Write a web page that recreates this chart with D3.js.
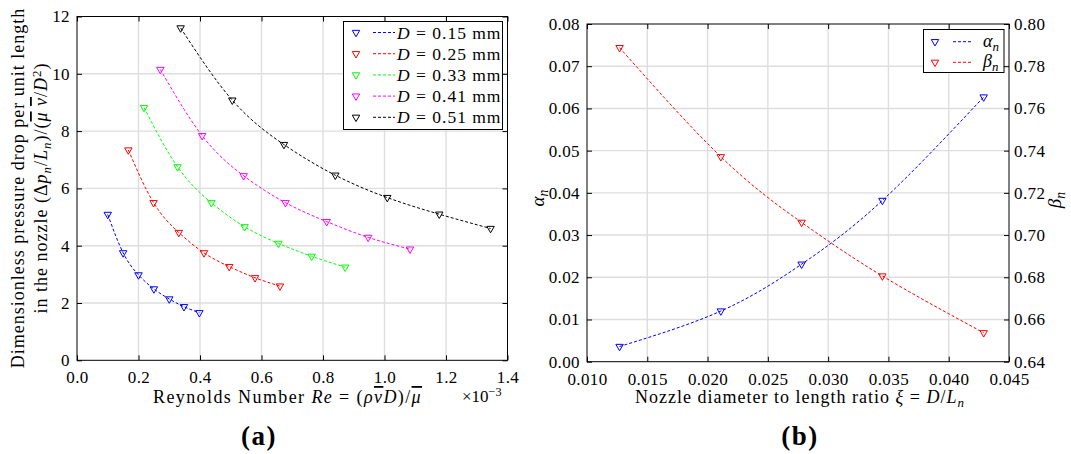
<!DOCTYPE html>
<html>
<head>
<meta charset="utf-8">
<script src="https://cdn.jsdelivr.net/npm/d3@7"></script>
<style>
  body { margin: 0; background: #fff; }
</style>
</head>
<body>
<svg id="chart" width="1071" height="454"></svg>
<script>
// ---- data ----
var diameters = ["0.15", "0.25", "0.33", "0.41", "0.51"];
var seriesColors = ["#0000ff", "#ff0000", "#00ff00", "#ff00ff", "#000000"];
var reX = [
  [0.100, 0.150, 0.200, 0.250, 0.300, 0.348, 0.398],
  [0.167, 0.249, 0.331, 0.413, 0.495, 0.579, 0.660],
  [0.218, 0.327, 0.437, 0.545, 0.655, 0.763, 0.872],
  [0.271, 0.407, 0.542, 0.678, 0.812, 0.947, 1.083],
  [0.337, 0.505, 0.673, 0.840, 1.009, 1.178, 1.345]
];
var dpY = [
  [5.09, 3.75, 2.98, 2.49, 2.14, 1.87, 1.66],
  [7.34, 5.50, 4.46, 3.75, 3.27, 2.88, 2.59],
  [8.82, 6.75, 5.50, 4.66, 4.08, 3.63, 3.25],
  [10.15, 7.84, 6.44, 5.50, 4.84, 4.29, 3.88],
  [11.60, 9.08, 7.53, 6.46, 5.68, 5.10, 4.60]
];
var xiValues = [0.0127, 0.0211, 0.0278, 0.0345, 0.0429];
var alphaValues = [0.0036, 0.0120, 0.0231, 0.0382, 0.0627];
var betaValues = [0.7888, 0.7371, 0.7060, 0.6806, 0.6537];

var xTicksA = [0, 0.2, 0.4, 0.6, 0.8, 1.0, 1.2, 1.4];
var yTicksA = [0, 2, 4, 6, 8, 10, 12];
var xTicksB = [0.010, 0.015, 0.020, 0.025, 0.030, 0.035, 0.040, 0.045];
var yTicksB = [0, 0.01, 0.02, 0.03, 0.04, 0.05, 0.06, 0.07, 0.08];
var yTicksB2 = [0.64, 0.66, 0.68, 0.70, 0.72, 0.74, 0.76, 0.78, 0.80];

var svg = d3.select("#chart");
var fs = 17;

// rich text helper: segs = [[text, opts]] opts: i italic, sub, sup, over, b bold
function rich(sel, segs) {
  var shift = 0;
  segs.forEach(function(s){
    var o = s[1] || {};
    var target = o.sub ? 4 : (o.sup ? -6 : 0);
    var t = sel.append("tspan").text(s[0]).attr("dy", target - shift);
    shift = target;
    if (o.i) t.style("font-style", "italic");
    if (o.sub || o.sup) t.style("font-size", "0.72em");
    if (o.over) t.style("text-decoration", "overline");
    if (o.b) t.style("font-weight", "bold");
  });
  return sel;
}

function frame(g, x, y, xt, yt, right, fmtX, fmtY) {
  var x0 = x.range()[0], x1 = x.range()[1], y0 = y.range()[0], y1 = y.range()[1];
  // grid
  g.selectAll(".gx").data(xt.slice(1, -1)).enter().append("line")
    .attr("x1", x).attr("x2", x).attr("y1", y0).attr("y2", y1)
    .attr("stroke", "#dedede").attr("stroke-width", 1.4);
  g.selectAll(".gy").data(yt.slice(1, -1)).enter().append("line")
    .attr("y1", y).attr("y2", y).attr("x1", x0).attr("x2", x1)
    .attr("stroke", "#dedede").attr("stroke-width", 1.4);
  // inner ticks on all sides
  g.append("g").attr("transform", "translate(0," + y0 + ")")
    .call(d3.axisBottom(x).tickValues(xt).tickSize(-5).tickFormat(fmtX).tickPadding(11));
  g.append("g").attr("transform", "translate(0," + y1 + ")")
    .call(d3.axisTop(x).tickValues(xt).tickSize(-5).tickFormat(""));
  g.append("g").attr("transform", "translate(" + x0 + ",0)")
    .call(d3.axisLeft(y).tickValues(yt).tickSize(-5).tickFormat(fmtY).tickPadding(7));
  if (right) {
    g.append("g").attr("transform", "translate(" + x1 + ",0)")
      .call(d3.axisRight(y).tickValues(yt).tickSize(-5).tickFormat(""));
  }
  g.selectAll(".domain").remove();
  g.selectAll(".tick line").attr("stroke", "#000");
  g.append("rect").attr("x", x0).attr("y", y1).attr("width", x1 - x0).attr("height", y0 - y1)
    .attr("fill", "none").attr("stroke", "#000").attr("stroke-width", 1);
}

var tri = d3.symbol().type(d3.symbolTriangle).size(24);
function markers(g, xs, ys, x, y, color) {
  g.selectAll(null).data(xs).enter().append("path")
    .attr("d", tri)
    .attr("transform", function(d, i){ return "translate(" + x(d) + "," + y(ys[i]) + ") rotate(180)"; })
    .attr("fill", "none").attr("stroke", color).attr("stroke-width", 1);
}
function curve(g, xs, ys, x, y, color) {
  var line = d3.line().x(function(d){ return x(d[0]); }).y(function(d){ return y(d[1]); })
    .curve(d3.curveNatural);
  g.append("path").datum(d3.zip(xs, ys)).attr("d", line)
    .attr("fill", "none").attr("stroke", color).attr("stroke-width", 1).attr("stroke-dasharray", "3,2");
}

// ---- panel (a) ----
var xa = d3.scaleLinear().domain([0, 1.4]).range([77, 507.5]);
var ya = d3.scaleLinear().domain([0, 12]).range([360.3, 16.5]);
var ga = svg.append("g");
frame(ga, xa, ya, xTicksA, yTicksA, true, d3.format(".1f"), d3.format("d"));
diameters.forEach(function(dm, k){
  curve(ga, reX[k], dpY[k], xa, ya, seriesColors[k]);
  markers(ga, reX[k], dpY[k], xa, ya, seriesColors[k]);
});

// legend (a)
var la = ga.append("g");
la.append("rect").attr("x", 343.5).attr("y", 21.5).attr("width", 159).attr("height", 108)
  .attr("fill", "#fff").attr("stroke", "#000").attr("stroke-width", 1);
diameters.forEach(function(dm, k){
  var yy = 32.5 + k * 21.2;
  la.append("path").attr("d", tri).attr("transform", "translate(356," + yy + ") rotate(180)")
    .attr("fill", "none").attr("stroke", seriesColors[k]);
  la.append("line").attr("x1", 373).attr("x2", 395).attr("y1", yy).attr("y2", yy)
    .attr("stroke", seriesColors[k]).attr("stroke-dasharray", "3,2");
  rich(la.append("text").attr("class", "wide").attr("x", 397).attr("y", yy + 6).style("font-size", "17.5px"),
    [["D", {i: 1}], [" = " + dm + " mm"]]);
});

// axis titles (a)
rich(svg.append("text").attr("class", "wide xt").attr("x", 153).attr("y", 403).style("font-size", "18px"),
  [["Reynolds Number "], ["Re", {i: 1}], [" = ("], ["ρ", {i: 1}], ["v", {i: 1, over: 1}], ["D", {i: 1}], [")/"], ["μ", {i: 1, over: 1}]]);
rich(svg.append("text").attr("x", 462).attr("y", 402).style("font-size", "17px"),
  [["×10"], ["−3", {sup: 1}]]);
rich(svg.append("text").attr("x", 259).attr("y", 445).attr("text-anchor", "middle").style("font-size", "27px")
    .style("letter-spacing", "1.5px"),
  [["(a)", {b: 1}]]);
var yt = svg.append("g").attr("transform", "translate(0,188) rotate(-90)");
yt.append("text").attr("class", "wide").attr("x", 0).attr("y", 24).attr("text-anchor", "middle").style("font-size", "18px")
  .text("Dimensionless pressure drop per unit length");
rich(yt.append("text").attr("class", "wide").attr("x", 0).attr("y", 47).attr("text-anchor", "middle").style("font-size", "18px"),
  [["in the nozzle (Δ"], ["p", {i: 1}], ["n", {i: 1, sub: 1}], ["/"], ["L", {i: 1}], ["n", {i: 1, sub: 1}], [")/("],
   ["μ", {i: 1, over: 1}], [" "], ["v", {i: 1, over: 1}], ["/"], ["D", {i: 1}], ["2", {sup: 1}], [")"]]);

// ---- panel (b) ----
var xb = d3.scaleLinear().domain([0.010, 0.045]).range([587, 1009]);
var yb = d3.scaleLinear().domain([0, 0.08]).range([361.7, 24]);
var yb2 = d3.scaleLinear().domain([0.64, 0.80]).range([361.7, 24]);
var gb = svg.append("g");
frame(gb, xb, yb, xTicksB, yTicksB, false, d3.format(".3f"), d3.format(".2f"));
gb.append("g").attr("transform", "translate(1009,0)")
  .call(d3.axisRight(yb2).tickValues(yTicksB2).tickSize(-5).tickFormat(d3.format(".2f")).tickPadding(5))
  .call(function(a){
    a.select(".domain").remove();
    a.selectAll(".tick line").attr("stroke", "#000");
  });
curve(gb, xiValues, alphaValues, xb, yb, "#0000ff");
curve(gb, xiValues, betaValues, xb, yb2, "#ff0000");
markers(gb, xiValues, alphaValues, xb, yb, "#0000ff");
markers(gb, xiValues, betaValues, xb, yb2, "#ff0000");

// legend (b)
var lb = gb.append("g");
lb.append("rect").attr("x", 923.5).attr("y", 29.5).attr("width", 80.5).attr("height", 43)
  .attr("fill", "#fff").attr("stroke", "#000");
[["α", "#0000ff"], ["β", "#ff0000"]].forEach(function(s, k){
  var yy = 41.7 + k * 20.6;
  lb.append("path").attr("d", tri).attr("transform", "translate(935," + yy + ") rotate(180)")
    .attr("fill", "none").attr("stroke", s[1]);
  lb.append("line").attr("x1", 953).attr("x2", 973).attr("y1", yy).attr("y2", yy)
    .attr("stroke", s[1]).attr("stroke-dasharray", "3,2");
  rich(lb.append("text").attr("x", 983).attr("y", yy + 5).style("font-size", "18px"),
    [[s[0], {i: 1}], ["n", {i: 1, sub: 1}]]);
});

// axis titles (b)
rich(svg.append("text").attr("class", "wide").attr("x", 800).attr("y", 403).attr("text-anchor", "middle").style("font-size", "18px"),
  [["Nozzle diameter to length ratio "], ["ξ", {i: 1}], [" = "], ["D", {i: 1}], ["/"], ["L", {i: 1}], ["n", {i: 1, sub: 1}]]);
rich(svg.append("text").attr("x", 800).attr("y", 445).attr("text-anchor", "middle").style("font-size", "27px")
    .style("letter-spacing", "1.5px"),
  [["(b)", {b: 1}]]);
rich(svg.append("text").attr("transform", "translate(544,198) rotate(-90)").attr("text-anchor", "middle").style("font-size", "19px"),
  [["α", {i: 1}], ["n", {i: 1, sub: 1}]]);
rich(svg.append("text").attr("transform", "translate(1061,200) rotate(-90)").attr("text-anchor", "middle").style("font-size", "19px"),
  [["β", {i: 1}], ["n", {i: 1, sub: 1}]]);

// fonts: serif everywhere, wider spacing to mimic the TeX look
svg.selectAll("g").attr("font-family", null).attr("font-size", null);
svg.selectAll("text").style("font-family", "'Liberation Serif', serif").attr("fill", "#000");
svg.selectAll(".tick text").style("font-size", fs + "px").style("letter-spacing", "0.4px");
svg.selectAll("text.wide").style("letter-spacing", "1px");
svg.selectAll("text.xt").style("letter-spacing", "1.4px");
</script>
</body>
</html>
